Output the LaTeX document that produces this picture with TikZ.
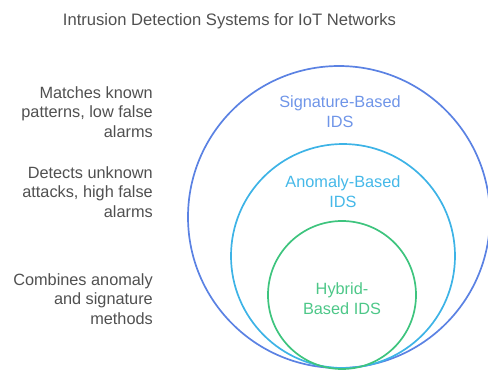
\documentclass[tikz,border=0pt]{standalone}
\usepackage{fontspec}
\setmainfont{Liberation Sans}
\definecolor{sigblue}{HTML}{5B82E3}
\definecolor{anoblue}{HTML}{3DB3E6}
\definecolor{hybgreen}{HTML}{3EC47E}
\definecolor{sigtext}{HTML}{6F95E8}
\definecolor{anotext}{HTML}{45B8E8}
\definecolor{hybtext}{HTML}{4DC788}
\definecolor{txtgray}{HTML}{505050}
\tikzset{
  ring/.style={draw=#1, line width=1.7pt, circle, inner sep=0pt},
  desc/.style={font=\fontsize{16.3}{19.8}\selectfont, text=txtgray, align=right, anchor=east, inner sep=0pt},
  ringlabel/.style={font=\fontsize{16.3}{19.8}\selectfont, text=#1, align=center, inner sep=0pt},
}
\begin{document}
\begin{tikzpicture}[x=1pt, y=-1pt]
  \useasboundingbox (0,0) rectangle (488,370);
  % title
  \node[font=\fontsize{16.6}{19}\selectfont, text=txtgray, inner sep=0pt] (title) at (229.5,21) {Intrusion Detection Systems for IoT Networks};
  % nested circles, all touching at the bottom
  \node[ring=sigblue, minimum size=302pt] (sig) at (339,217) {};
  \node[ring=anoblue, minimum size=224pt] (ano) at (343,256) {};
  \node[ring=hybgreen, minimum size=148pt] (hyb) at (342,295) {};
  % circle labels
  \node[ringlabel=sigtext] (siglbl) at (340,112) {Signature-Based\\IDS};
  \node[ringlabel=anotext] (anolbl) at (343,192) {Anomaly-Based\\IDS};
  \node[ringlabel=hybtext] (hyblbl) at (342,299) {Hybrid-\\Based IDS};
  % descriptions on the left
  \node[desc] (sigdesc) at (153,112) {Matches known\\patterns, low false\\alarms};
  \node[desc] (anodesc) at (153,192) {Detects unknown\\attacks, high false\\alarms};
  \node[desc] (hybdesc) at (153,299) {Combines anomaly\\and signature\\methods};
\end{tikzpicture}
\end{document}
